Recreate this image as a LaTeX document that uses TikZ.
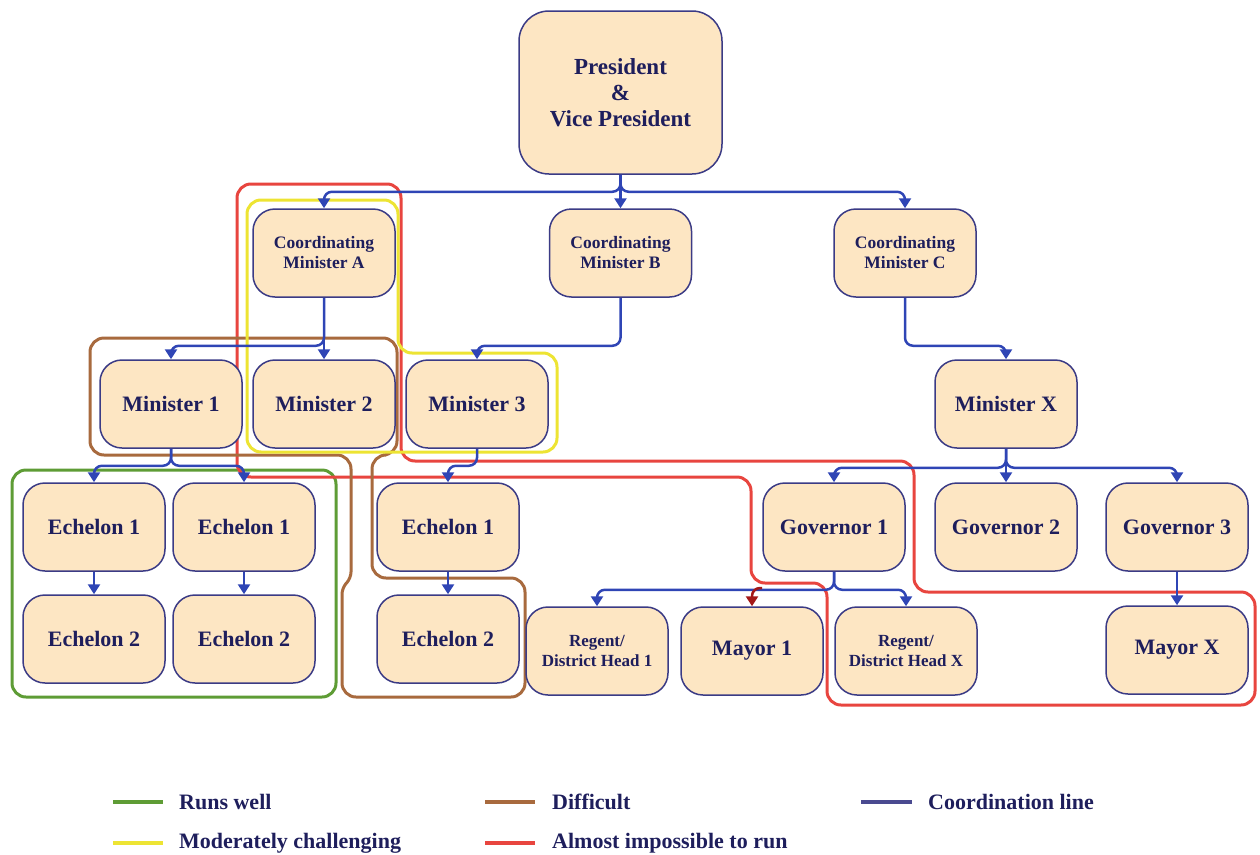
\documentclass[tikz,border=0pt]{standalone}
\usepackage{fontspec}
\setmainfont{Liberation Serif}
\usetikzlibrary{arrows.meta}

\definecolor{boxfill}{HTML}{FDE6C3}
\definecolor{boxline}{HTML}{3B3B85}
\definecolor{txt}{HTML}{1E1E5C}
\definecolor{coord}{HTML}{2F45B5}
\definecolor{grpgreen}{HTML}{5E9C35}
\definecolor{grpyellow}{HTML}{EDE433}
\definecolor{grpbrown}{HTML}{A86A3E}
\definecolor{grpred}{HTML}{E8453F}
\definecolor{legnavy}{HTML}{4A4A90}
\definecolor{darkred}{HTML}{A31818}

\tikzset{
  box/.style={draw=boxline, fill=boxfill, line width=1.5pt, rounded corners=22pt,
    minimum width=142pt, minimum height=88pt, align=center, text=txt,
    font=\bfseries\fontsize{22}{24}\selectfont, inner sep=2pt},
  smallbox/.style={box, font=\bfseries\fontsize{17.5}{20}\selectfont},
  regbox/.style={box, font=\bfseries\fontsize{17}{20}\selectfont},
  conn/.style={draw=coord, line width=2.5pt, rounded corners=8pt,
    -{Triangle[length=10pt,width=12pt]}},
  grp/.style={line width=3pt, rounded corners=14pt},
  legline/.style={line width=3.5pt},
  legtext/.style={anchor=west, text=txt, font=\bfseries\fontsize{22}{24}\selectfont, inner sep=0pt}
}

\begin{document}
\begin{tikzpicture}[x=1pt, y=-1pt]
\useasboundingbox (0,0) rectangle (1260,854);
\clip (0,0) rectangle (1260,854);

% group outlines
\draw[grp, grpgreen] (12,470) rectangle (336,697);
\draw[grp, grpred] (237,184) -- (401,184) -- (401,461) -- (914,461) -- (914,592)
  -- (1255,592) -- (1255,705) -- (827,705) -- (827,583) -- (751,583) -- (751,477)
  -- (237,477) -- cycle;
\draw[grp, grpbrown] (90,338) -- (397,338) -- (397,455) -- (372,455) -- (372,578)
  -- (525,578) -- (525,697) -- (342,697) [rounded corners=6pt] -- (342,588)
  -- (351,578) [rounded corners=14pt] -- (351,455)
  -- (90,455) -- cycle;
\draw[grp, grpyellow] (247,200) -- (398,200) -- (398,353) -- (557,353) -- (557,452)
  -- (247,452) -- cycle;

% boxes
\node[box, minimum width=203pt, minimum height=163pt, rounded corners=30pt,
  font=\bfseries\fontsize{23}{26}\selectfont] (pres) at (620.5,92.5)
  {President\\\&\\Vice President};
\node[smallbox] (cmA) at (324,253) {Coordinating\\Minister A};
\node[smallbox] (cmB) at (620.5,253) {Coordinating\\Minister B};
\node[smallbox] (cmC) at (905,253) {Coordinating\\Minister C};

\node[box] (min1) at (171,404) {Minister 1};
\node[box] (min2) at (324,404) {Minister 2};
\node[box] (min3) at (477,404) {Minister 3};
\node[box] (minX) at (1006,404) {Minister X};

\node[box] (e1a) at (94,527) {Echelon 1};
\node[box] (e1b) at (244,527) {Echelon 1};
\node[box] (e2a) at (94,639) {Echelon 2};
\node[box] (e2b) at (244,639) {Echelon 2};
\node[box] (e1c) at (448,527) {Echelon 1};
\node[box] (e2c) at (448,639) {Echelon 2};

\node[box] (gov1) at (834,527) {Governor 1};
\node[box] (gov2) at (1006,527) {Governor 2};
\node[box] (gov3) at (1177,527) {Governor 3};

\node[regbox] (reg1) at (597,651) {Regent/\\District Head 1};
\node[box] (may1) at (752,651) {Mayor 1};
\node[regbox] (regX) at (906,651) {Regent/\\District Head X};
\node[box] (mayX) at (1177,650) {Mayor X};

% coordination lines
\draw[conn] (pres.south) -- ++(0,17) -| (cmA.north);
\draw[conn] (pres.south) -- (cmB.north);
\draw[conn] (pres.south) -- ++(0,17) -| (cmC.north);

\draw[conn] (cmA.south) -- ++(0,48) -| (min1.north);
\draw[conn] (cmA.south) -- (min2.north);
\draw[conn] (cmB.south) -- ++(0,48) -| (min3.north);
\draw[conn] (cmC.south) -- ++(0,48) -| (minX.north);

\draw[conn] (min1.south) -- ++(0,17) -| (e1a.north);
\draw[conn] (min1.south) -- ++(0,17) -| (e1b.north);
\draw[conn] (e1a.south) -- (e2a.north);
\draw[conn] (e1b.south) -- (e2b.north);
\draw[conn] (min3.south) -- ++(0,17) -| (e1c.north);
\draw[conn] (e1c.south) -- (e2c.north);

\draw[conn] (minX.south) -- ++(0,19) -| (gov1.north);
\draw[conn] (minX.south) -- (gov2.north);
\draw[conn] (minX.south) -- ++(0,19) -| (gov3.north);

\draw[conn] (gov1.south) -- ++(0,18) -| (reg1.north);
\draw[conn] (gov1.south) -- ++(0,18) -| (regX.north);
\coordinate (m1j) at (762,588);
\draw[conn, draw=darkred] (m1j) -| (may1.north);
\draw[conn] (gov3.south) -- (mayX.north);

% legend
\draw[legline, grpgreen] (113,802) -- (163,802);
\node[legtext] (lgA) at (179,802) {Runs well};
\draw[legline, grpbrown] (485,802) -- (535,802);
\node[legtext] (lgB) at (552,802) {Difficult};
\draw[legline, legnavy] (861,802) -- (912,802);
\node[legtext] (lgC) at (928,802) {Coordination line};
\draw[legline, grpyellow] (113,843) -- (163,843);
\node[legtext] (lgD) at (179,843) {Moderately challenging};
\draw[legline, grpred] (485,843) -- (535,843);
\node[legtext] (lgE) at (552,843) {Almost impossible to run};
\end{tikzpicture}
\end{document}
